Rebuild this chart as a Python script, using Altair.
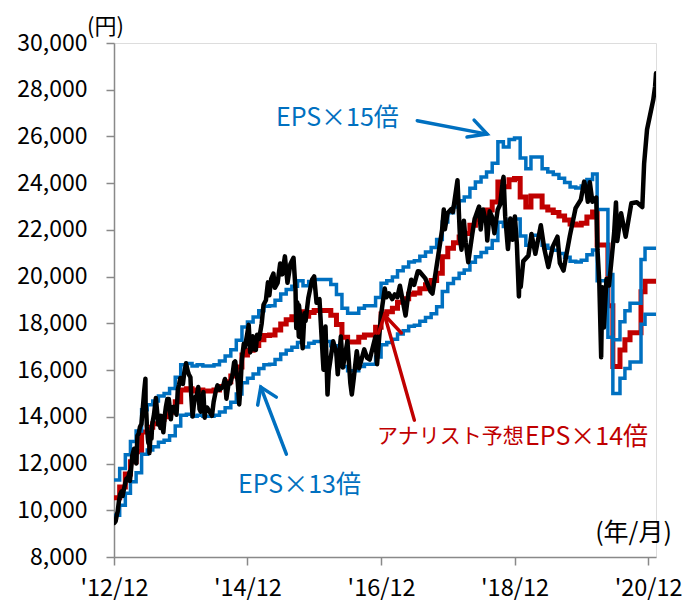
import altair as alt
import pandas as pd

# ---------------- data ----------------
nikkei_dates = [
    "2012-12-03", "2012-12-10", "2012-12-17", "2012-12-21", "2012-12-28",
    "2013-01-04", "2013-01-11", "2013-01-17", "2013-01-25", "2013-01-31",
    "2013-02-07", "2013-02-12", "2013-02-19", "2013-02-25", "2013-02-26",
    "2013-03-07", "2013-03-11", "2013-03-21", "2013-03-26", "2013-04-02",
    "2013-04-08", "2013-04-15", "2013-04-22", "2013-04-30", "2013-05-10",
    "2013-05-15", "2013-05-22", "2013-05-23", "2013-05-27", "2013-05-30",
    "2013-06-05", "2013-06-07", "2013-06-11", "2013-06-13", "2013-06-19",
    "2013-06-24", "2013-06-28", "2013-07-08", "2013-07-18", "2013-07-26",
    "2013-07-31", "2013-08-07", "2013-08-12", "2013-08-14", "2013-08-23",
    "2013-08-28", "2013-09-05", "2013-09-11", "2013-09-19", "2013-09-27",
    "2013-10-08", "2013-10-15", "2013-10-23", "2013-10-31", "2013-11-08",
    "2013-11-15", "2013-11-22", "2013-11-29", "2013-12-10", "2013-12-13",
    "2013-12-20", "2013-12-30", "2014-01-10", "2014-01-15", "2014-01-23",
    "2014-01-27", "2014-02-04", "2014-02-10", "2014-02-18", "2014-02-27",
    "2014-03-07", "2014-03-14", "2014-03-20", "2014-03-31", "2014-04-04",
    "2014-04-11", "2014-04-17", "2014-04-24", "2014-05-09", "2014-05-21",
    "2014-05-30", "2014-06-10", "2014-06-20", "2014-06-30", "2014-07-10",
    "2014-07-22", "2014-07-31", "2014-08-08", "2014-08-20", "2014-08-29",
    "2014-09-10", "2014-09-19", "2014-09-25", "2014-10-09", "2014-10-17",
    "2014-10-24", "2014-10-31", "2014-11-11", "2014-11-17", "2014-11-28",
    "2014-12-08", "2014-12-16", "2014-12-30", "2015-01-06", "2015-01-16",
    "2015-01-23", "2015-02-03", "2015-02-17", "2015-02-27", "2015-03-12",
    "2015-03-23", "2015-03-31", "2015-04-10", "2015-04-22", "2015-04-30",
    "2015-05-15", "2015-05-29", "2015-06-09", "2015-06-24", "2015-07-08",
    "2015-07-24", "2015-08-10", "2015-08-21", "2015-08-25", "2015-08-31",
    "2015-09-08", "2015-09-09", "2015-09-18", "2015-09-29", "2015-10-09",
    "2015-10-15", "2015-10-30", "2015-11-20", "2015-12-01", "2015-12-14",
    "2015-12-18", "2015-12-30", "2016-01-12", "2016-01-21", "2016-02-01",
    "2016-02-12", "2016-02-19", "2016-03-14", "2016-03-31", "2016-04-08",
    "2016-04-25", "2016-05-06", "2016-05-31", "2016-06-16", "2016-06-24",
    "2016-07-05", "2016-07-21", "2016-08-03", "2016-08-31", "2016-09-16",
    "2016-09-30", "2016-10-31", "2016-11-09", "2016-11-30", "2016-12-21",
    "2016-12-30", "2017-01-13", "2017-01-31", "2017-02-14", "2017-02-28",
    "2017-03-14", "2017-03-31", "2017-04-14", "2017-04-28", "2017-05-15",
    "2017-05-31", "2017-06-20", "2017-06-29", "2017-07-31", "2017-08-29",
    "2017-09-08", "2017-09-29", "2017-10-31", "2017-11-09", "2017-11-15",
    "2017-11-30", "2017-12-20", "2017-12-29", "2018-01-23", "2018-02-06",
    "2018-02-14", "2018-02-27", "2018-03-09", "2018-03-23", "2018-04-13",
    "2018-04-27", "2018-05-21", "2018-05-30", "2018-06-12", "2018-06-29",
    "2018-07-05", "2018-07-18", "2018-07-31", "2018-08-13", "2018-08-31",
    "2018-09-14", "2018-09-28", "2018-10-02", "2018-10-11", "2018-10-26",
    "2018-11-08", "2018-11-20", "2018-12-03", "2018-12-14", "2018-12-25",
    "2018-12-28", "2019-01-04", "2019-01-18", "2019-01-31", "2019-02-15",
    "2019-03-04", "2019-03-25", "2019-04-24", "2019-05-13", "2019-06-04",
    "2019-06-28", "2019-07-24", "2019-08-06", "2019-08-26", "2019-09-30",
    "2019-10-31", "2019-11-29", "2019-12-17", "2019-12-30", "2020-01-06",
    "2020-01-17", "2020-01-31", "2020-02-21", "2020-02-28", "2020-03-09",
    "2020-03-19", "2020-03-25", "2020-04-03", "2020-04-17", "2020-05-01",
    "2020-05-29", "2020-06-08", "2020-06-15", "2020-07-06", "2020-07-31",
    "2020-08-31", "2020-09-30", "2020-10-30", "2020-11-09", "2020-11-25",
    "2020-12-29", "2021-01-08", "2021-01-13",
]
nikkei_values = [
    9458, 9533, 9829, 9940, 10395,
    10688, 10801, 10610, 10926, 11139,
    11357, 11369, 11468, 11662, 11254,
    11968, 12349, 12635, 12472, 12003,
    13192, 13275, 13568, 13694, 14607,
    15096, 15627, 14483, 14143, 13589,
    13014, 12877, 13317, 12445, 13245,
    13062, 13677, 14109, 14808, 14129,
    13668, 13825, 13519, 14050, 13660,
    13338, 14065, 14425, 14766, 14760,
    13895, 14404, 14426, 14327, 14086,
    15165, 15381, 15662, 15611, 15403,
    15870, 16291, 15912, 15808, 15695,
    15006, 14009, 14462, 14843, 14923,
    15274, 14327, 14224, 14828, 15063,
    13960, 14417, 14404, 14199, 14042,
    14632, 15069, 15349, 15162, 15216,
    15344, 15621, 14778, 15454, 15425,
    15788, 16321, 16374, 15478, 14532,
    15291, 16414, 17124, 16973, 17460,
    17935, 16756, 17451, 16884, 16864,
    17511, 17336, 18004, 18798, 18991,
    19754, 19207, 19908, 20134, 19520,
    19733, 20563, 20097, 20868, 19737,
    20544, 20808, 19435, 17806, 18890,
    17427, 18770, 18070, 16931, 18438,
    18097, 19083, 19880, 20012, 18883,
    18987, 19034, 17219, 16017, 17865,
    14953, 15967, 17233, 16759, 15821,
    17440, 16106, 17235, 15434, 14952,
    15669, 16810, 16083, 16887, 16519,
    16450, 17425, 16251, 18308, 19494,
    19114, 19287, 19041, 19238, 19119,
    19609, 18909, 18335, 19197, 19869,
    19651, 20230, 20220, 19925, 19362,
    19275, 20356, 22012, 22869, 22028,
    22725, 22892, 22765, 24124, 21610,
    21154, 22390, 21469, 20617, 21778,
    22468, 23002, 22018, 22878, 22305,
    21546, 22794, 22554, 21858, 22865,
    23095, 24120, 24270, 22590, 21184,
    22486, 21583, 22574, 21374, 19155,
    20015, 19561, 20666, 20773, 20900,
    21822, 20977, 22200, 21191, 20408,
    21276, 21710, 20585, 20261, 21756,
    22927, 23294, 24066, 23657, 23204,
    24041, 23205, 23386, 21143, 19698,
    16553, 19546, 17820, 19897, 19619,
    21877, 23178, 21530, 22714, 21710,
    23140, 23185, 22977, 24839, 26297,
    27568, 28139, 28700,
]

# analyst forecast EPS (yen), monthly from Dec 2012 to Feb 2020
eps_monthly_start = "2012-12-01"
eps_monthly = [
    752.9, 785.7, 825.0, 862.9, 892.9, 953.6, 967.9, 978.6, 992.9, 1000.0,
    1014.3, 1046.4, 1082.1, 1085.7, 1078.6, 1082.1, 1078.6, 1078.6, 1082.1, 1092.9,
    1107.1, 1125.0, 1152.1, 1189.3, 1203.6, 1217.9, 1235.7, 1248.6, 1250.0, 1265.7,
    1283.6, 1296.4, 1305.7, 1321.4, 1307.1, 1319.3, 1325.0, 1325.0, 1325.0, 1310.7,
    1282.1, 1242.9, 1228.6, 1228.6, 1242.9, 1250.0, 1250.0, 1273.6, 1314.3, 1321.4,
    1332.1, 1350.0, 1360.7, 1375.0, 1378.6, 1391.4, 1403.6, 1416.4, 1439.3, 1489.3,
    1515.7, 1532.1, 1550.0, 1560.7, 1585.7, 1603.6, 1617.9, 1632.1, 1657.1, 1717.9,
    1703.6, 1725.0, 1728.6, 1672.1, 1641.4, 1675.0, 1675.0, 1641.4, 1632.1, 1625.0,
    1614.3, 1602.1, 1589.3, 1586.4, 1592.1, 1610.7, 1626.4,
]
# revisions after Feb 2020
eps_2020_dates = ["2020-02-26", "2020-04-25", "2020-05-22", "2020-06-30",
                  "2020-07-27", "2020-08-24", "2020-10-23", "2020-11-14", "2021-01-13"]
eps_2020_values = [1525.0, 1339.3, 1153.6, 1204.3, 1235.7, 1257.1, 1382.1, 1414.3, 1414.3]

multiples = [13, 14, 15]

# annotation texts, placed in data space (date, yen)
label_texts = ["EPS×15倍", "EPS×13倍", "アナリスト予想", "EPS×14倍"]
label_dates = ["2016-04-06", "2015-09-12", "2019-01-20", "2019-01-28"]
label_values = [26800, 11072, 13129, 13129]
label_colors = ["#0070C0", "#0070C0", "#C00000", "#C00000"]
label_align = ["center", "center", "right", "left"]
label_size = [25, 25, 21, 25]

# arrows: polyline pieces in data space
arrow_group = ["a15s", "a15s", "a15h", "a15h", "a15h",
               "a13s", "a13s", "a13h", "a13h", "a13h",
               "a14s", "a14s", "a14h", "a14h", "a14h"]
arrow_dates = ["2017-06-17", "2018-07-04", "2018-04-24", "2018-07-04", "2018-03-16",
               "2015-07-02", "2015-02-12", "2015-01-26", "2015-02-12", "2015-05-08",
               "2017-06-01", "2016-12-20", "2016-11-17", "2016-12-20", "2017-03-22"]
arrow_values = [26676, 26101, 26701, 26101, 25973,
                12401, 15272, 14501, 15272, 14843,
                13859, 18359, 17588, 18359, 17588]
arrow_colors = ["#0070C0"] * 10 + ["#C00000"] * 5

# ---------------- tables ----------------
nikkei = pd.DataFrame({"date": nikkei_dates, "value": nikkei_values})

eps_dates = list(pd.date_range(eps_monthly_start, periods=len(eps_monthly), freq="MS")
                 .strftime("%Y-%m-%d")) + eps_2020_dates
eps_vals = eps_monthly + eps_2020_values
rows = []
for k in multiples:
    for d, e in zip(eps_dates, eps_vals):
        rows.append({"date": d, "value": e * k, "series": f"x{k}"})
eps = pd.DataFrame(rows)

labels = pd.DataFrame({"text": label_texts, "date": label_dates,
                       "value": label_values, "color": label_colors})
arrows = pd.DataFrame({"grp": arrow_group, "date": arrow_dates, "value": arrow_values,
                       "color": arrow_colors, "seq": list(range(len(arrow_group)))})

FONT = "Noto Sans CJK JP"
GRAY = "#898989"

x_enc = alt.X(
    "date:T",
    scale=alt.Scale(type="utc",
                    domain=[alt.DateTime(year=2012, month=12, date=1, utc=True),
                            alt.DateTime(year=2021, month=1, date=13, utc=True)]),
    axis=alt.Axis(
        values=[alt.DateTime(year=y, month=12, date=1, utc=True)
                for y in (2012, 2014, 2016, 2018, 2020)],
        labelExpr="\"'\" + utcFormat(datum.value, '%y/%m')",
        grid=False, tickSize=8, labelPadding=30, labelBaseline="alphabetic",
        labelFontSize=23.5, labelFont=FONT, labelColor="#000000",
        domainColor=GRAY, tickColor=GRAY, domainWidth=1.5, tickWidth=1.5,
        title="(年/月)", titleFont=FONT, titleFontSize=25, titleFontWeight="normal",
        titleColor="#000000", titleAngle=0, titleX=519, titleY=-25,
        titleAlign="center", titleBaseline="middle", labelFlush=False,
    ),
)
y_enc = alt.Y(
    "value:Q",
    scale=alt.Scale(domain=[8000, 30000], nice=False, zero=False),
    axis=alt.Axis(
        values=list(range(8000, 30001, 2000)), format=",.0f",
        grid=False, tickSize=8, labelPadding=19,
        labelFontSize=23, labelFont=FONT, labelColor="#000000",
        domainColor=GRAY, tickColor=GRAY, domainWidth=1.5, tickWidth=1.5,
        title="(円)", titleFont=FONT, titleFontSize=22, titleFontWeight="normal",
        titleColor="#000000", titleAngle=0, titleX=-9, titleY=-17,
        titleAlign="center", titleBaseline="middle",
    ),
)

red = alt.Chart(eps[eps.series == "x14"]).mark_line(
    interpolate="step-after", color="#C00000", strokeWidth=5, clip=True
).encode(x=x_enc, y=y_enc)

blue = alt.Chart(eps[eps.series != "x14"]).mark_line(
    interpolate="step-after", color="#0070C0", strokeWidth=3.5, clip=True
).encode(x="date:T", y="value:Q", detail="series:N")

black = alt.Chart(nikkei).mark_line(
    color="#000000", strokeWidth=4.5, strokeJoin="round", strokeCap="round", clip=True
).encode(x="date:T", y="value:Q")

arrow_layer = alt.Chart(arrows).mark_line(strokeWidth=3.5, strokeCap="round").encode(
    x="date:T", y="value:Q", detail="grp:N", order="seq:Q",
    color=alt.Color("color:N", scale=None),
)

text_layers = []
for i in range(len(label_texts)):
    text_layers.append(
        alt.Chart(labels.iloc[[i]]).mark_text(
            font=FONT, fontSize=label_size[i], align=label_align[i], baseline="middle"
        ).encode(
            x="date:T", y="value:Q", text="text:N",
            color=alt.Color("color:N", scale=None),
        )
    )

chart = alt.layer(red, blue, black, arrow_layer, *text_layers).properties(
    width=542, height=514,
    padding={"left": 106, "top": 35, "right": 34, "bottom": 44},
    autosize=alt.AutoSizeParams(type="none"),
).configure_view(stroke=None).configure(background="#ffffff")

chart.save("out.html", embed_options={"renderer": "svg", "actions": False})
